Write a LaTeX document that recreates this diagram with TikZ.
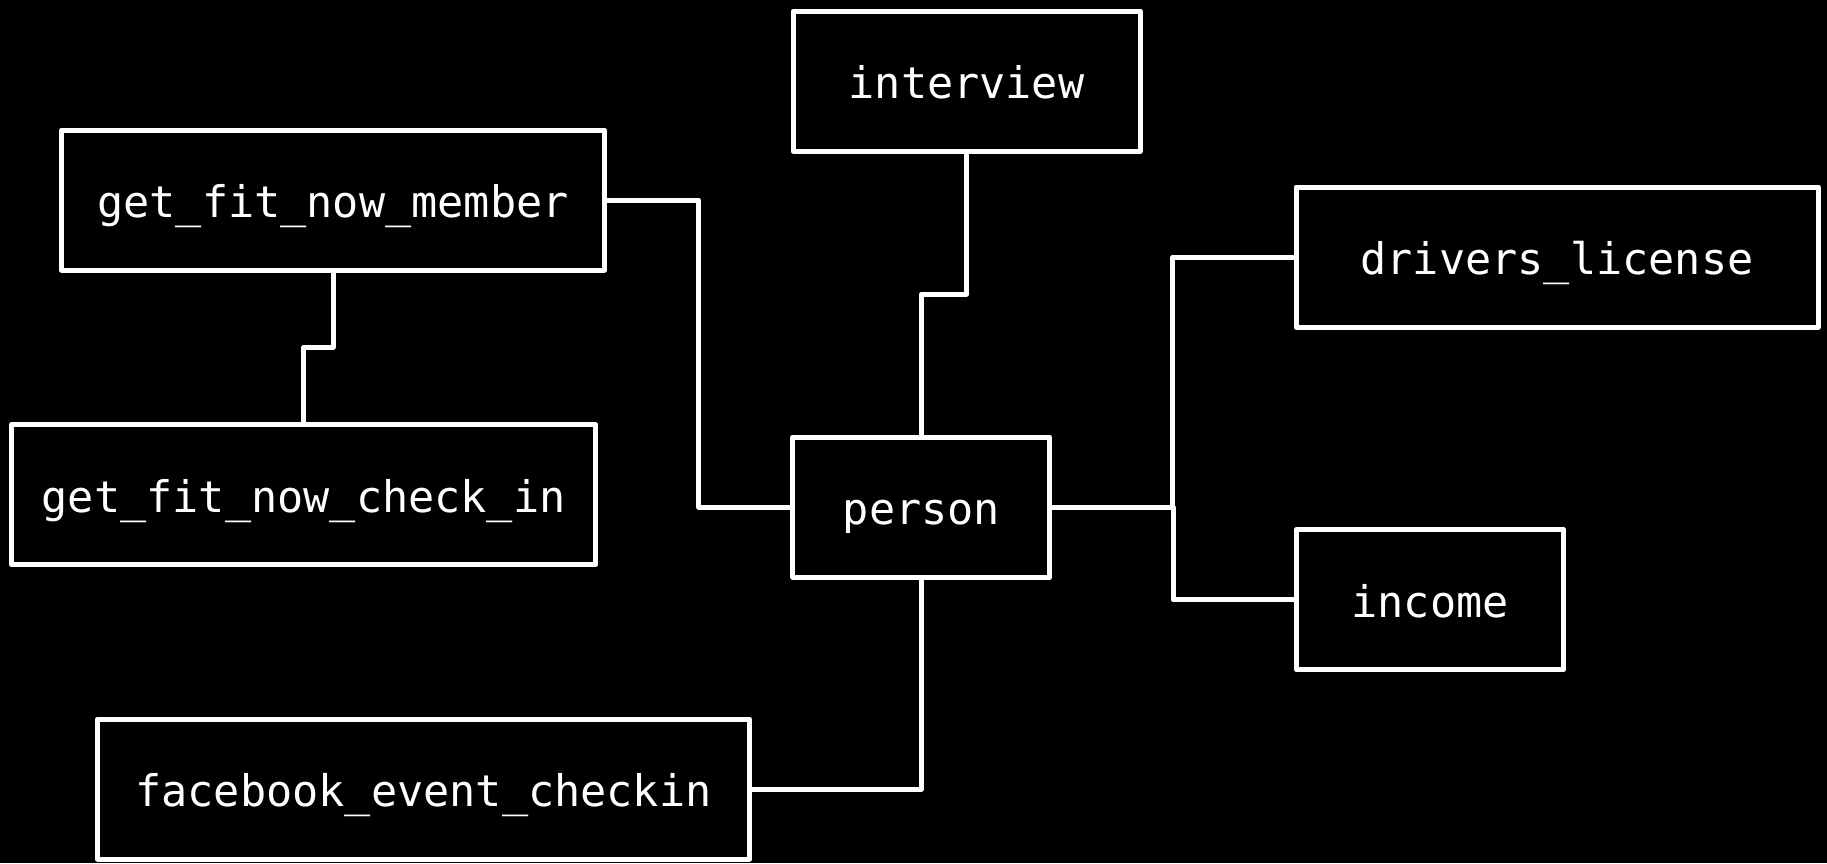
\documentclass[tikz,border=0pt]{standalone}
\usepackage{fontspec}
\setmonofont{DejaVu Sans Mono}
\usetikzlibrary{calc}
\begin{document}
\begin{tikzpicture}[x=1pt,y=-1pt,
  tbl/.style={draw=white, line width=5pt, text=white,
    font=\ttfamily\fontsize{43.5}{50}\selectfont,
    text height=45pt, text depth=10pt,
    minimum height=140pt, inner sep=0pt, outer sep=0pt, line join=round},
  link/.style={draw=white, line width=5pt, line join=round}]
\fill[black] (0,0) rectangle (1827,863);
\useasboundingbox (0,0) rectangle (1827,863);
\node[tbl, minimum width=347pt] (interview) at (966.5,81) {interview};
\node[tbl, minimum width=543pt] (gfm) at (333,200) {get\_fit\_now\_member};
\node[tbl, minimum width=522pt] (drivers) at (1557,257) {drivers\_license};
\node[tbl, minimum width=584pt] (checkin) at (303.7,494.5) {get\_fit\_now\_check\_in};
\node[tbl, minimum width=257pt] (person) at (921.4,507) {person};
\node[tbl, minimum width=267.5pt] (income) at (1430,599.5) {income};
\node[tbl, minimum width=652pt] (fb) at (423.5,789) {facebook\_event\_checkin};
\draw[link] (gfm.east) -| ($(gfm.east)!.5!(person.west)$) |- (person.west);
\draw[link] (gfm.south) |- ($(gfm.south)!.5!(checkin.north)$) -| (checkin.north);
\draw[link] (interview.south) |- ($(interview.south)!.5!(person.north)$) -| (person.north);
\draw[link] (person.east) -| ($(person.east)!.5!(drivers.west)$) |- (drivers.west);
\draw[link] (person.east) -| ($(person.east)!.5!(income.west)$) |- (income.west);
\draw[link] (person.south) |- (fb.east);
\end{tikzpicture}
\end{document}
